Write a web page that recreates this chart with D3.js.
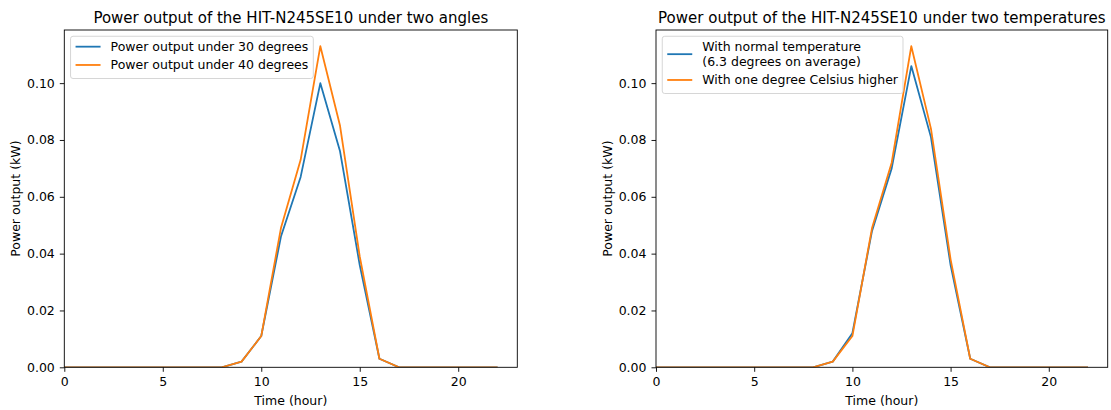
<!DOCTYPE html>
<html>
<head>
<meta charset="utf-8">
<script src="https://cdn.jsdelivr.net/npm/d3@7"></script>
<style>
  body { margin: 0; background: #fff; }
  svg text { font-family: "DejaVu Sans", sans-serif; fill: #000; }
</style>
</head>
<body>
<div id="chart"></div>
<script>
const hours = d3.range(0, 23)

// left panel: two tilt angles
const angle30 = [0,0,0,0,0,0,0,0,0, 0.002,0.011,0.046,0.067,0.100,0.076,0.036,0.003, 0,0,0,0,0,0]
const angle40 = [0,0,0,0,0,0,0,0,0, 0.002,0.011,0.049,0.073,0.113,0.085,0.039,0.003, 0,0,0,0,0,0]

// right panel: two temperatures
const tempNormal = [0,0,0,0,0,0,0,0,0, 0.002,0.012,0.048,0.070,0.106,0.081,0.036,0.003, 0,0,0,0,0,0]
const tempHigher = [0,0,0,0,0,0,0,0,0, 0.002,0.011,0.049,0.072,0.113,0.084,0.038,0.003, 0,0,0,0,0,0]

const xTicks = [0, 5, 10, 15, 20]
const yTicks = [0, 0.02, 0.04, 0.06, 0.08, 0.10]

const panels = [
  {
    id: 'left',
    title: 'Power output of the HIT-N245SE10 under two angles',
    series: [
      {values: angle30, label: ['Power output under 30 degrees']},
      {values: angle40, label: ['Power output under 40 degrees']}
    ],
    left: 64.3, right: 517.3
  },
  {
    id: 'right',
    title: 'Power output of the HIT-N245SE10 under two temperatures',
    series: [
      {values: tempNormal, label: ['With normal temperature', '(6.3 degrees on average)']},
      {values: tempHigher, label: ['With one degree Celsius higher']}
    ],
    left: 656, right: 1107.7
  }
]

const colors = ['#1f77b4', '#ff7f0e']
const plotTop = 30
const plotBottom = 367.3
const fs = 12.5

const svg = d3.select('#chart').append('svg')
  .attr('width', 1111)
  .attr('height', 410)

function drawPanel(p) {
  const x = d3.scaleLinear().domain([0, 23]).range([p.left, p.right])
  const y = d3.scaleLinear().domain([0, 0.1187]).range([plotBottom, plotTop])

  const g = svg.append('g').attr('class', 'panel-' + p.id)

  g.append('clipPath').attr('id', 'clip-' + p.id)
    .append('rect')
    .attr('x', p.left).attr('y', plotTop)
    .attr('width', p.right - p.left).attr('height', plotBottom - plotTop)

  const line = d3.line()
    .x((d, j) => x(hours[j]))
    .y(d => y(d))

  g.append('g').attr('clip-path', `url(#clip-${p.id})`)
    .selectAll('path')
    .data(p.series)
    .enter()
    .append('path')
    .attr('fill', 'none')
    .attr('stroke', (d, j) => colors[j])
    .attr('stroke-width', 1.8)
    .attr('stroke-linejoin', 'round')
    .attr('d', d => line(d.values))

  const xAxis = g.append('g')
    .attr('transform', `translate(0,${plotBottom})`)
    .call(d3.axisBottom(x).tickValues(xTicks).tickSize(4.5).tickPadding(5.5).tickFormat(d3.format('d')))
  const yAxis = g.append('g')
    .attr('transform', `translate(${p.left},0)`)
    .call(d3.axisLeft(y).tickValues(yTicks).tickSize(4.5).tickPadding(5).tickFormat(d3.format('.2f')))

  for (const ax of [xAxis, yAxis]) {
    ax.select('.domain').remove()
    ax.selectAll('text').attr('font-size', fs).attr('fill', '#000').style('font-family', '"DejaVu Sans", sans-serif')
    ax.selectAll('line').attr('stroke', '#000').attr('stroke-width', 0.9)
  }

  // frame
  g.append('rect')
    .attr('x', p.left).attr('y', plotTop)
    .attr('width', p.right - p.left).attr('height', plotBottom - plotTop)
    .attr('fill', 'none')
    .attr('stroke', '#000')
    .attr('stroke-width', 0.9)

  g.append('text')
    .attr('x', (p.left + p.right) / 2)
    .attr('y', 22.5)
    .attr('text-anchor', 'middle')
    .attr('font-size', 15)
    .text(p.title)

  g.append('text')
    .attr('x', (p.left + p.right) / 2)
    .attr('y', 405)
    .attr('text-anchor', 'middle')
    .attr('font-size', fs)
    .text('Time (hour)')

  g.append('text')
    .attr('transform', `translate(${p.left - 44},${(plotTop + plotBottom) / 2}) rotate(-90)`)
    .attr('text-anchor', 'middle')
    .attr('font-size', fs)
    .text('Power output (kW)')

  // legend
  const lg = g.append('g').attr('transform', `translate(${p.left + 6.25},${plotTop + 6.25})`)
  const box = lg.append('rect')
    .attr('fill', '#fff')
    .attr('fill-opacity', 0.8)
    .attr('stroke', '#d6d6d6')
    .attr('stroke-width', 1)
    .attr('rx', 2.5)

  let yy = 4.4
  let maxRight = 0
  p.series.forEach((s, j) => {
    const n = s.label.length
    const h = 12.05 + (n - 1) * 15
    const mid = yy + h / 2
    lg.append('line')
      .attr('x1', 5).attr('x2', 30)
      .attr('y1', mid).attr('y2', mid)
      .attr('stroke', colors[j])
      .attr('stroke-width', 1.8)
    s.label.forEach((t, k) => {
      const txt = lg.append('text')
        .attr('x', 40)
        .attr('y', yy + 6 + 4.5 + k * 15)
        .attr('font-size', fs)
        .text(t)
      maxRight = Math.max(maxRight, 40 + txt.node().getComputedTextLength())
    })
    yy += h + 6.25
  })
  box.attr('x', 0).attr('y', 0)
    .attr('width', maxRight + 5)
    .attr('height', yy - 6.25 + 7.5)
}

panels.forEach(drawPanel)
</script>
</body>
</html>
